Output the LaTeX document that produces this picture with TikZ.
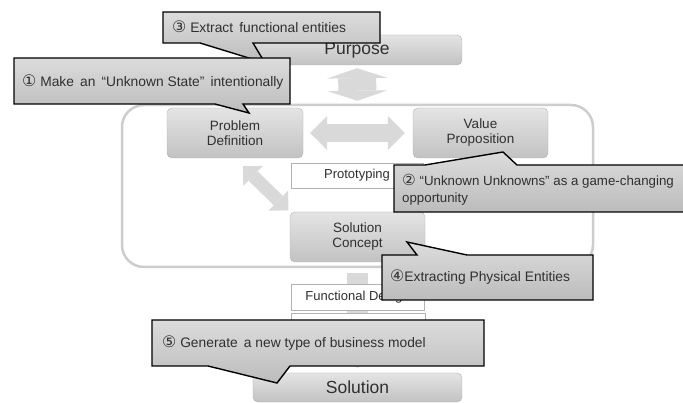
\documentclass[tikz,border=0pt]{standalone}
\usepackage{fontspec}
\setmainfont{Liberation Sans}
\newfontfamily\circfont[Scale=1.15]{DejaVu Sans}
\usetikzlibrary{arrows.meta, positioning, backgrounds}
\definecolor{boxtop}{HTML}{E4E4E4}
\definecolor{boxbottom}{HTML}{C2C2C2}
\definecolor{boxline}{HTML}{B2B2B2}
\definecolor{arrowgray}{HTML}{D9D9D9}
\definecolor{framegray}{HTML}{CDCDCD}
\definecolor{notetop}{HTML}{DCDCDC}
\definecolor{notebottom}{HTML}{BCBCBC}
\definecolor{inktext}{HTML}{303030}
\newcommand{\cnum}[1]{{\circfont #1}}
\tikzset{
	stagebox/.style={
			rectangle,
			rounded corners=5pt,
			draw=boxline,
			top color=boxtop,
			bottom color=boxbottom,
			inner sep=0pt,
			align=center,
			text=inktext,
			font=\fontsize{13.5}{15}\selectfont
		},
	toolbox/.style={
			rectangle,
			draw=boxline,
			fill=white,
			inner sep=0pt,
			text=inktext,
			font=\fontsize{13}{15}\selectfont
		},
	loopframe/.style={
			rectangle,
			rounded corners=22pt,
			draw=framegray,
			line width=2.5pt,
			inner sep=0pt
		},
	fatarrow/.style={
			draw=arrowgray,
			line width=#1
		},
	notebox/.style={
			draw=black,
			line width=1.4pt,
			top color=notetop,
			bottom color=notebottom,
			line join=miter
		},
	notetext/.style={
			anchor=west,
			inner sep=0pt,
			align=left,
			text=inktext,
			font=\fontsize{13.8}{17}\selectfont
		}
}

\begin{document}
\begin{tikzpicture}[x=1pt, y=-1pt]
  \useasboundingbox (0,0) rectangle (683,403);

  \node[loopframe, minimum width=471pt, minimum height=162pt] (loop) at (357.5,186) {};

  \node[stagebox, minimum width=210pt, minimum height=30pt, font=\fontsize{17.5}{19}\selectfont] (purpose) at (357,50) {Purpose};
  \node[stagebox, minimum width=136pt, minimum height=50pt] (probdef) at (235,133) {Problem\\Definition};
  \node[stagebox, minimum width=135pt, minimum height=50pt] (valprop) at (480.5,133) {Value\\Proposition};
  \node[toolbox, minimum width=132pt, minimum height=25pt] (proto) at (357,175.5) {Prototyping};
  \node[stagebox, minimum width=135pt, minimum height=50pt] (solconc) at (357.5,237) {Solution\\Concept};
  \node[toolbox, minimum width=133pt, minimum height=26pt] (funcdes) at (357.5,297) {Functional Design};
  \node[toolbox, minimum width=134pt, minimum height=30pt] (nextbox) at (358,328) {};
  \node[stagebox, minimum width=209pt, minimum height=29pt, font=\fontsize{17.5}{19}\selectfont] (solution) at (357.5,387.5) {Solution};

  \begin{scope}[on background layer]
    \fill[white] (0,0) rectangle (683,403);
    \draw[fatarrow=38pt, {Triangle[width=60pt,length=10pt,line width=0pt]}-{Triangle[width=60pt,length=10pt,line width=0pt]},
      shorten <=3pt, shorten >=3pt] (purpose.south) -- (loop.north);
    \draw[fatarrow=18pt, {Triangle[width=34pt,length=17pt,line width=0pt]}-{Triangle[width=34pt,length=17pt,line width=0pt]},
      shorten <=7pt, shorten >=8pt] (probdef.east) -- (valprop.west);
    \draw[fatarrow=13pt, {Triangle[width=28pt,length=14pt,line width=0pt]}-{Triangle[width=28pt,length=14pt,line width=0pt]},
      shorten >=2pt] ([shift={(8,8)}]probdef.south) -- (solconc.north west);
    \draw[fatarrow=21pt, -{Triangle[width=40pt,length=14pt,line width=0pt]},
      shorten <=5pt, shorten >=5pt] (loop.south) -- (solution.north);
  \end{scope}

  \draw[notebox] (163,12) -- (380,12) -- (380,43) -- (253,43) -- (265,63) -- (200,43) -- (163,43) -- cycle;
  \node[notetext] (note3) at (172,27) {\cnum{③} Extract\, functional entities};

  \draw[notebox] (14,58) -- (290,58) -- (290,104) -- (243,104) -- (249,113) -- (215,104) -- (14,104) -- cycle;
  \node[notetext] (note1) at (22,82) {\cnum{①} Make\, an\, “Unknown State”\, intentionally};

  \draw[notebox] (394,165) -- (425,165) -- (503,152) -- (517,165) -- (700,165) -- (700,212) -- (394,212) -- cycle;
  \node[notetext, font=\fontsize{13.3}{17}\selectfont] (note2) at (402,189.5) {\cnum{②} “Unknown Unknowns” as a game-changing\\opportunity};

  \draw[notebox] (382,255) -- (417,255) -- (407,242) -- (467,255) -- (593,255) -- (593,300) -- (382,300) -- cycle;
  \node[notetext] (note4) at (390,277) {\cnum{④}Extracting Physical Entities};

  \draw[notebox] (152,320) -- (484,320) -- (484,366) -- (290,366) -- (277,383) -- (208,366) -- (152,366) -- cycle;
  \node[notetext] (note5) at (162,343) {\cnum{⑤} Generate\, a new type of business model};

\end{tikzpicture}
\end{document}
